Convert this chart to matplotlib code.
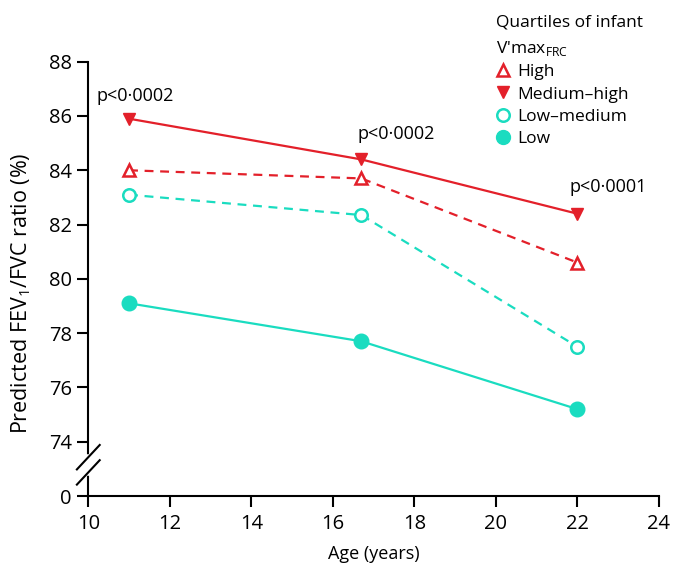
import matplotlib
matplotlib.use("Agg")
from matplotlib import pyplot as plt
from matplotlib.lines import Line2D
import matplotlib.transforms as mtransforms

plt.rcParams['font.family'] = ['Open Sans', 'DejaVu Sans']
plt.rcParams['mathtext.fontset'] = 'custom'
plt.rcParams['mathtext.rm'] = 'Open Sans'

# data
age = [11, 16.7, 22]
high = [84.0, 83.7, 80.6]
medium_high = [85.9, 84.4, 82.4]
low_medium = [83.1, 82.35, 77.5]
low = [79.1, 77.7, 75.2]
p_labels = ['p<0·0002', 'p<0·0002', 'p<0·0001']
p_x = [10.2, 16.6, 21.8]
p_y = [86.75, 85.35, 83.4]
yticks = [72, 74, 76, 78, 80, 82, 84, 86, 88]
ytick_labels = ['0', '74', '76', '78', '80', '82', '84', '86', '88']
xticks = [10, 12, 14, 16, 18, 20, 22, 24]

red = '#e3202a'
cyan = '#1adcc0'

fig = plt.figure(figsize=(6.73, 5.65), dpi=100)
ax = fig.add_axes([0.1312, 0.1221, 0.979 - 0.1312, 0.8908 - 0.1221])

lw = 1.6
ax.plot(age, medium_high, color=red, lw=lw, marker='v', ms=9, mfc=red, mec=red, zorder=3)
ax.plot(age, high, color=red, lw=lw, ls=(0, (4, 3)), marker='^', ms=8, mfc='white', mec=red, mew=1.8, zorder=3)
ax.plot(age, low_medium, color=cyan, lw=lw, ls=(0, (4, 3)), marker='o', ms=9, mfc='white', mec=cyan, mew=1.8, zorder=3)
ax.plot(age, low, color=cyan, lw=lw, marker='o', ms=10.5, mfc=cyan, mec=cyan, zorder=3)

for x, y, s in zip(p_x, p_y, p_labels):
    ax.text(x, y, s, fontsize=13, ha='left', va='center')

ax.set_xlim(10, 24)
ax.set_ylim(72, 88)
ax.set_xticks(xticks)
ax.set_yticks(yticks)
ax.set_yticklabels(ytick_labels)
ax.tick_params(axis='both', labelsize=14.5, length=8, width=1.5, direction='out')
ax.tick_params(axis='x', pad=5)
ax.tick_params(axis='y', pad=4)
for side in ['top', 'right']:
    ax.spines[side].set_visible(False)
for side in ['left', 'bottom']:
    ax.spines[side].set_linewidth(1.5)

ax.set_xlabel('Age (years)', fontsize=13)
ax.xaxis.set_label_coords(0.5, -0.112)
ax.set_ylabel('Predicted FEV$_\\mathregular{1}$/FVC ratio (%)', fontsize=15.5)
ax.yaxis.set_label_coords(-0.097, 0.467)

# axis break marks
trans = mtransforms.blended_transform_factory(ax.transAxes, ax.transData)
ax.plot([0, 0], [72.85, 73.45], transform=trans, color='white', lw=4, clip_on=False, zorder=5)
for yc in [73.43, 72.87]:
    ax.plot([-0.02, 0.02], [yc - 0.45, yc + 0.45], transform=trans, color='black', lw=1.5,
            clip_on=False, zorder=6)

handles = [
    Line2D([], [], ls='none', marker='^', ms=8, mfc='white', mec=red, mew=1.8),
    Line2D([], [], ls='none', marker='v', ms=9, mfc=red, mec=red),
    Line2D([], [], ls='none', marker='o', ms=9, mfc='white', mec=cyan, mew=1.8),
    Line2D([], [], ls='none', marker='o', ms=10, mfc=cyan, mec=cyan),
]
leg = fig.legend(handles, ['High', 'Medium–high', 'Low–medium', 'Low'],
                 title="Quartiles of infant\nV'max$_\\mathregular{FRC}$",
                 loc='upper left', bbox_to_anchor=(0.737, 0.974), frameon=False,
                 fontsize=12.5, title_fontsize=12.5, handlelength=0.8, handletextpad=0.4,
                 labelspacing=0.35, borderpad=0, borderaxespad=0, alignment='left')
leg.get_title().set_linespacing(1.6)

fig.savefig('out.png', dpi=100)
